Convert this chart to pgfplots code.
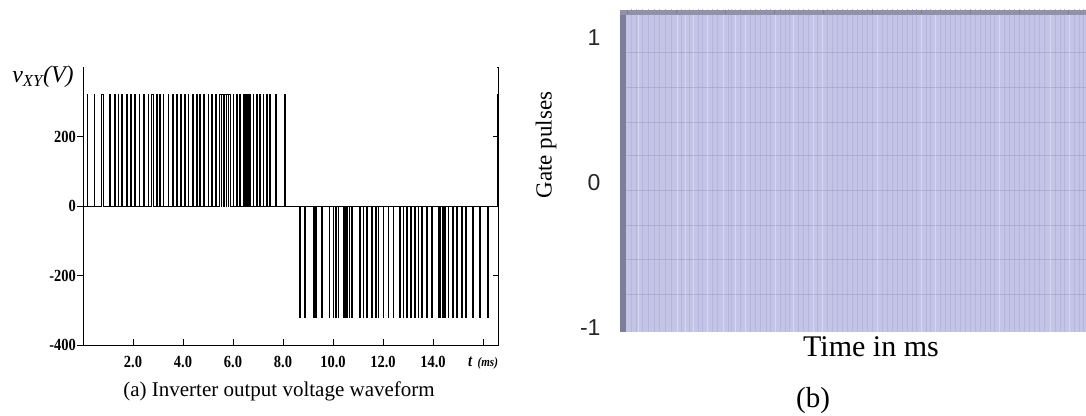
\documentclass[border=0pt]{standalone}
\usepackage{fontspec}
\setmainfont{Liberation Serif}
\newfontfamily\sansf{Liberation Sans}
\newfontfamily\condserif[FakeStretch=0.85]{Liberation Serif}
\usepackage{pgfplots}
\usepackage{pgfplotstable}
\pgfplotsset{compat=1.18}
\definecolor{lav}{HTML}{C4C4E7}
\definecolor{lavdark}{HTML}{B6B6DC}
\definecolor{lavlight}{HTML}{D8D8F2}
\definecolor{stripgray}{HTML}{7E7E98}

\pgfplotstableread{
x y
0 0
0.16 322
0.19 0
0.44 322
0.47 0
0.74 322
0.82 0
1.07 322
1.10 0
1.27 322
1.30 0
1.40 322
1.43 0
1.54 322
1.57 0
1.74 322
1.77 0
1.91 322
1.94 0
2.07 322
2.10 0
2.24 322
2.27 0
2.43 322
2.46 0
2.60 322
2.63 0
2.75 322
2.81 0
2.94 322
2.97 0
3.07 322
3.10 0
3.20 322
3.23 0
3.40 322
3.43 0
3.58 322
3.61 0
3.74 322
3.77 0
3.91 322
3.94 0
4.07 322
4.10 0
4.20 322
4.23 0
4.38 322
4.41 0
4.54 322
4.57 0
4.67 322
4.70 0
4.83 322
4.86 0
5.00 322
5.03 0
5.14 322
5.17 0
5.31 322
5.34 0
5.47 322
5.52 0
5.55 322
5.60 0
5.67 322
5.72 0
5.75 322
5.80 0
5.83 322
5.89 0
6.00 322
6.03 0
6.14 322
6.17 0
6.27 322
6.30 0
6.40 322
6.45 0
6.48 322
6.53 0
6.56 322
6.62 0
6.67 322
6.70 0
6.80 322
6.83 0
6.94 322
6.97 0
7.07 322
7.10 0
7.20 322
7.23 0
7.34 322
7.37 0
7.47 322
7.50 0
7.71 322
7.74 0
8.07 322
8.10 0
8.67 -322
8.70 0
8.87 -322
8.90 0
9.20 -322
9.25 0
9.28 -322
9.33 0
9.54 -322
9.57 0
9.84 -322
9.87 0
10.00 -322
10.03 0
10.11 -322
10.14 0
10.20 -322
10.23 0
10.40 -322
10.45 0
10.48 -322
10.52 0
10.54 -322
10.57 0
10.64 -322
10.67 0
10.74 -322
10.77 0
11.07 -322
11.10 0
11.20 -322
11.23 0
11.34 -322
11.37 0
11.54 -322
11.57 0
11.71 -322
11.74 0
11.80 -322
11.83 0
12.00 -322
12.03 0
12.20 -322
12.23 0
12.40 -322
12.43 0
12.67 -322
12.70 0
12.80 -322
12.83 0
12.94 -322
12.97 0
13.10 -322
13.13 0
13.27 -322
13.30 0
13.40 -322
13.43 0
13.54 -322
13.57 0
13.74 -322
13.77 0
13.94 -322
13.97 0
14.20 -322
14.24 0
14.26 -322
14.30 0
14.38 -322
14.41 0
14.47 -322
14.50 0
14.60 -322
14.63 0
14.78 -322
14.81 0
14.94 -322
14.97 0
15.14 -322
15.17 0
15.31 -322
15.34 0
15.58 -322
15.61 0
15.87 -322
15.90 0
16.18 -322
16.21 0
16.56 322
16.60 322
}\vxy

\pgfplotstableread{
x hi lo
631 1.3 -1.2
636 1.3 -1.2
642 1.3 -1.2
648 1.3 -1.2
654 1.3 -1.2
659 1.3 -1.2
665 1.3 -1.2
671 1.3 -1.2
681 1.3 -1.2
689 1.3 -1.2
698 1.3 -1.2
702 1.3 -1.2
712 1.3 -1.2
717 1.3 -1.2
728 1.3 -1.2
731 1.3 -1.2
740 1.3 -1.2
750 1.3 -1.2
755 1.3 -1.2
760 1.3 -1.2
766 1.3 -1.2
770 1.3 -1.2
780 1.3 -1.2
785 1.3 -1.2
789 1.3 -1.2
798 1.3 -1.2
803 1.3 -1.2
808 1.3 -1.2
817 1.3 -1.2
827 1.3 -1.2
832 1.3 -1.2
837 1.3 -1.2
842 1.3 -1.2
847 1.3 -1.2
852 1.3 -1.2
857 1.3 -1.2
862 1.3 -1.2
867 1.3 -1.2
872 1.3 -1.2
882 1.3 -1.2
887 1.3 -1.2
892 1.3 -1.2
897 1.3 -1.2
902 1.3 -1.2
907 1.3 -1.2
912 1.3 -1.2
916 1.3 -1.2
926 1.3 -1.2
930 1.3 -1.2
940 1.3 -1.2
945 1.3 -1.2
950 1.3 -1.2
955 1.3 -1.2
960 1.3 -1.2
965 1.3 -1.2
970 1.3 -1.2
975 1.3 -1.2
980 1.3 -1.2
985 1.3 -1.2
990 1.3 -1.2
994 1.3 -1.2
1004 1.3 -1.2
1009 1.3 -1.2
1014 1.3 -1.2
1019 1.3 -1.2
1024 1.3 -1.2
1029 1.3 -1.2
1034 1.3 -1.2
1039 1.3 -1.2
1044 1.3 -1.2
1055 1.3 -1.2
1060 1.3 -1.2
1064 1.3 -1.2
1074 1.3 -1.2
1079 1.3 -1.2
1083 1.3 -1.2
}\subtle

\pgfplotstableread{
x hi lo
638 1.3 -1.2
677 1.3 -1.2
685 1.3 -1.2
693 1.3 -1.2
707 1.3 -1.2
723 1.3 -1.2
735 1.3 -1.2
745 1.3 -1.2
775 1.3 -1.2
793 1.3 -1.2
813 1.3 -1.2
822 1.3 -1.2
877 1.3 -1.2
921 1.3 -1.2
935 1.3 -1.2
999 1.3 -1.2
1050 1.3 -1.2
1069 1.3 -1.2
}\bright

\begin{document}
\begin{tikzpicture}
\useasboundingbox (0,0) rectangle (1086pt,415pt);

% ---------------- panel (a)
\begin{axis}[
  at={(83pt,70pt)}, anchor=south west,
  width=415pt, height=278pt, scale only axis,
  xmin=0, xmax=16.6, ymin=-400, ymax=400,
  axis line style={line width=0.9pt},
  xtick={2,4,6,8,10,12,14,16},
  xticklabels={2.0,4.0,6.0,8.0,10.0,12.0,14.0,{{\fontsize{17}{17}\selectfont\bfseries\itshape t}\,\,{\fontsize{13}{13}\selectfont\bfseries\itshape(ms)}}},
  ytick={-400,-200,0,200},
  yticklabels={-400,-200,0,200},
  xtick pos=left, ytick pos=left,
  xtick align=inside, ytick align=outside,
  major tick length=6pt,
  tick style={line width=0.9pt, black},
  ticklabel style={font=\condserif\bfseries\fontsize{17}{17}\selectfont},
  xticklabel style={yshift=-8pt},
  yticklabel style={inner sep=1pt},
  clip=false,
]
\addplot[const plot, black, line width=0.9pt, mark=none] table[x=x, y=y] {\vxy};
% the frame is open at the top: cover the top edge
\addplot[white, line width=2pt, mark=none] coordinates {(0.03,400) (16.57,400)};
% inward ticks on the right-hand frame line
\addplot[black, line width=0.9pt, mark=none] coordinates {(16.4,200) (16.6,200)};
\addplot[black, line width=0.9pt, mark=none] coordinates {(16.4,-200) (16.6,-200)};
\end{axis}

\node[font=\fontsize{24}{24}\selectfont\itshape] at (43pt,338pt) {v\textsubscript{XY}(V)};
\node[font=\fontsize{21}{21}\selectfont] at (279pt,24pt) {(a) Inverter output voltage waveform};

% ---------------- panel (b)
\begin{axis}[
  at={(620pt,83pt)}, anchor=south west,
  width=480pt, height=322pt, scale only axis,
  xmin=620, xmax=1100, ymin=-1.028, ymax=1.193,
  axis line style={draw=none},
  axis on top=true,
  xtick={627,676,725,774,823,872,921,970,1019,1068},
  xticklabels={},
  xtick pos=right,
  ytick={-1,0,1}, yticklabels={-1,0,1},
  ytick pos=left,
  tick align=inside,
  major tick length=4pt,
  tick style={line width=0.6pt, color=stripgray},
  yticklabel style={font=\sansf\fontsize{23}{23}\selectfont, text=black!85, xshift=-16pt},
  extra y ticks={0.903,0.662,0.421,0.193,-0.048,-0.29,-0.524,-0.766},
  extra y tick labels={},
  extra y tick style={grid=major, major grid style={color=lavdark!70!black, opacity=0.3, line width=0.6pt}},
]
\addplot[fill=lav, draw=none, mark=none] coordinates {(620,-1.028) (620,1.193) (1100,1.193) (1100,-1.028)};
\addplot[ycomb, mark=none, color=lavdark, line width=0.8pt] table[x=x, y=hi] {\subtle};
\addplot[ycomb, mark=none, color=lavdark, line width=0.8pt] table[x=x, y=lo] {\subtle};
\addplot[ycomb, mark=none, color=lavlight, line width=1pt] table[x=x, y=hi] {\bright};
\addplot[ycomb, mark=none, color=lavlight, line width=1pt] table[x=x, y=lo] {\bright};
\fill[stripgray] (axis cs:620,-1.028) rectangle (axis cs:626,1.193);
\fill[stripgray!85] (axis cs:620,1.158) rectangle (axis cs:1100,1.193);
\end{axis}

\node[rotate=90, font=\fontsize{23}{23}\selectfont] at (546pt,270pt) {Gate pulses};
\node[font=\fontsize{30}{30}\selectfont] at (871pt,68pt) {Time in ms};
\node[font=\fontsize{29}{29}\selectfont] at (813pt,14pt) {(b)};
\end{tikzpicture}
\end{document}
